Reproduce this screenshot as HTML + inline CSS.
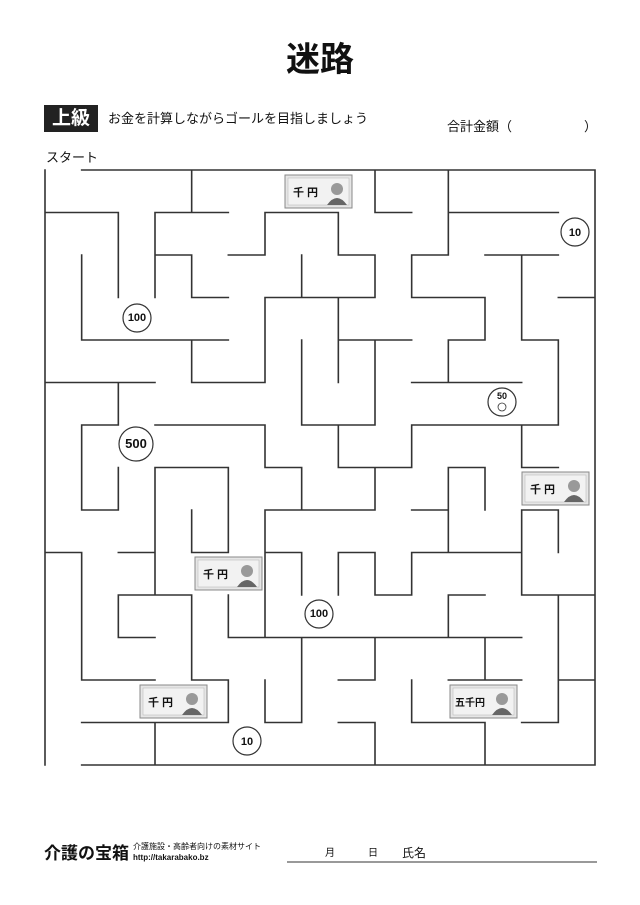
<!DOCTYPE html>
<html><head><meta charset="utf-8"><style>
body{margin:0;width:640px;height:905px;background:#fff;position:relative;overflow:hidden;font-family:"Liberation Sans","Noto Sans CJK JP",sans-serif;color:#111}
.a{position:absolute;white-space:nowrap}
</style></head><body>
<div class="a" style="left:0;width:640px;top:38px;text-align:center;font-size:34px;font-weight:bold;line-height:44px">迷路</div>
<div class="a" style="left:44px;top:105px;width:54px;height:27px;background:#222;color:#fff;font-size:19px;font-weight:bold;line-height:27px;text-align:center">上級</div>
<div class="a" style="left:108px;top:110px;font-size:13px;line-height:18px">お金を計算しながらゴールを目指しましょう</div>
<div class="a" style="left:447px;top:118px;font-size:13px;line-height:18px">合計金額（<span style="display:inline-block;width:72px"></span>）</div>
<div class="a" style="left:46px;top:149px;font-size:13px;line-height:18px">スタート</div>
<svg class="a" style="left:0;top:0" width="640" height="905">
<g transform="translate(45,170) scale(36.667,42.5)" stroke="#333" stroke-width="1.6" stroke-linecap="square" fill="none">
<g vector-effect="non-scaling-stroke">
<path vector-effect="non-scaling-stroke" d="
M1 0H15
M0 1H2M3 1H5M6 1H8M9 1H10M11 1H14
M3 2H4M5 2H6M8 2H9M10 2H11M12 2H14
M4 3H5M6 3H9M10 3H12M14 3H15
M1 4H5M8 4H10M11 4H12M13 4H14
M0 5H3M4 5H6M10 5H13
M1 6H2M3 6H6M7 6H9M10 6H14
M3 7H5M6 7H7M8 7H10M11 7H12M13 7H14
M1 8H2M6 8H9M10 8H11M13 8H14
M0 9H1M2 9H3M4 9H5M6 9H7M8 9H9M10 9H13
M2 10H4M9 10H10M11 10H12M13 10H15
M2 11H3M5 11H13
M1 12H3M4 12H5M8 12H9M11 12H13M14 12H15
M1 13H5M6 13H7M8 13H9M10 13H12M13 13H14
M1 14H15
M0 0V14
M1 2V4M1 6V8M1 9V12
M2 1V3M2 5V6M2 7V8M2 10V11
M3 1V3M3 7V10M3 13V14
M4 0V1M4 2V3M4 4V5M4 8V9M4 10V12
M5 7V9M5 10V11M5 12V13
M6 1V2M6 3V5M6 6V7M6 8V11M6 12V13
M7 2V3M7 4V6M7 7V8M7 9V10M7 11V13
M8 1V2M8 3V5M8 6V7M8 9V10
M9 0V1M9 2V3M9 4V6M9 7V8M9 9V10M9 11V12M9 13V14
M10 2V3M10 6V7M10 9V10M10 12V13
M11 0V2M11 4V5M11 7V9M11 10V11
M12 3V4M12 7V8M12 11V12M12 13V14
M13 2V4M13 6V7M13 8V10
M14 4V6M14 8V9M14 10V13
M15 0V14"/>
</g></g>
<defs>
<g id="bill"><rect x="0" y="0" width="67" height="33" fill="#e6e6e6" stroke="#888" stroke-width="1"/><rect x="3" y="3" width="61" height="27" fill="#f2f2f2" stroke="#bbb" stroke-width="0.6"/><circle cx="52" cy="14" r="6" fill="#999"/><path d="M42 30 Q52 16 62 30Z" fill="#666"/></g>
</defs>
<use href="#bill" x="285" y="175"/><use href="#bill" x="522" y="472"/><use href="#bill" x="195" y="557"/><use href="#bill" x="140" y="685"/><use href="#bill" x="450" y="685"/>
<g font-family="Liberation Sans,Noto Sans CJK JP,sans-serif" font-weight="bold" font-size="11" fill="#111">
<text x="293" y="196">千 円</text><text x="530" y="493">千 円</text><text x="203" y="578">千 円</text><text x="148" y="706">千 円</text><text x="455" y="706" font-size="10">五千円</text>
</g>
<g fill="#fff" stroke="#333" stroke-width="1.2">
<circle cx="575" cy="232" r="14"/><circle cx="137" cy="318" r="14"/><circle cx="502" cy="402" r="14"/><circle cx="136" cy="444" r="17"/><circle cx="319" cy="614" r="14"/><circle cx="247" cy="741" r="14"/>
</g>
<g font-family="Liberation Sans,sans-serif" font-weight="bold" text-anchor="middle" fill="#111">
<text x="575" y="236" font-size="11">10</text><text x="137" y="321" font-size="11">100</text><text x="502" y="399" font-size="9">50</text><text x="136" y="448" font-size="13">500</text><text x="319" y="617" font-size="11">100</text><text x="247" y="745" font-size="11">10</text>
</g>
<circle cx="502" cy="407" r="4" fill="none" stroke="#333" stroke-width="0.8"/>
<line x1="287" y1="862" x2="597" y2="862" stroke="#333" stroke-width="1"/>
</svg>
<div class="a" style="left:44px;top:843px;font-size:17px;font-weight:bold;line-height:22px">介護の宝箱</div>
<div class="a" style="left:133px;top:842px;font-size:8px;line-height:10px">介護施設・高齢者向けの素材サイト</div>
<div class="a" style="left:133px;top:853px;font-size:8px;line-height:10px;font-weight:bold">http://takarabako.bz</div>
<div class="a" style="left:325px;top:848px;font-size:10px;line-height:12px">月</div>
<div class="a" style="left:368px;top:848px;font-size:10px;line-height:12px">日</div>
<div class="a" style="left:402px;top:846px;font-size:12px;line-height:14px">氏名</div>
</body></html>
